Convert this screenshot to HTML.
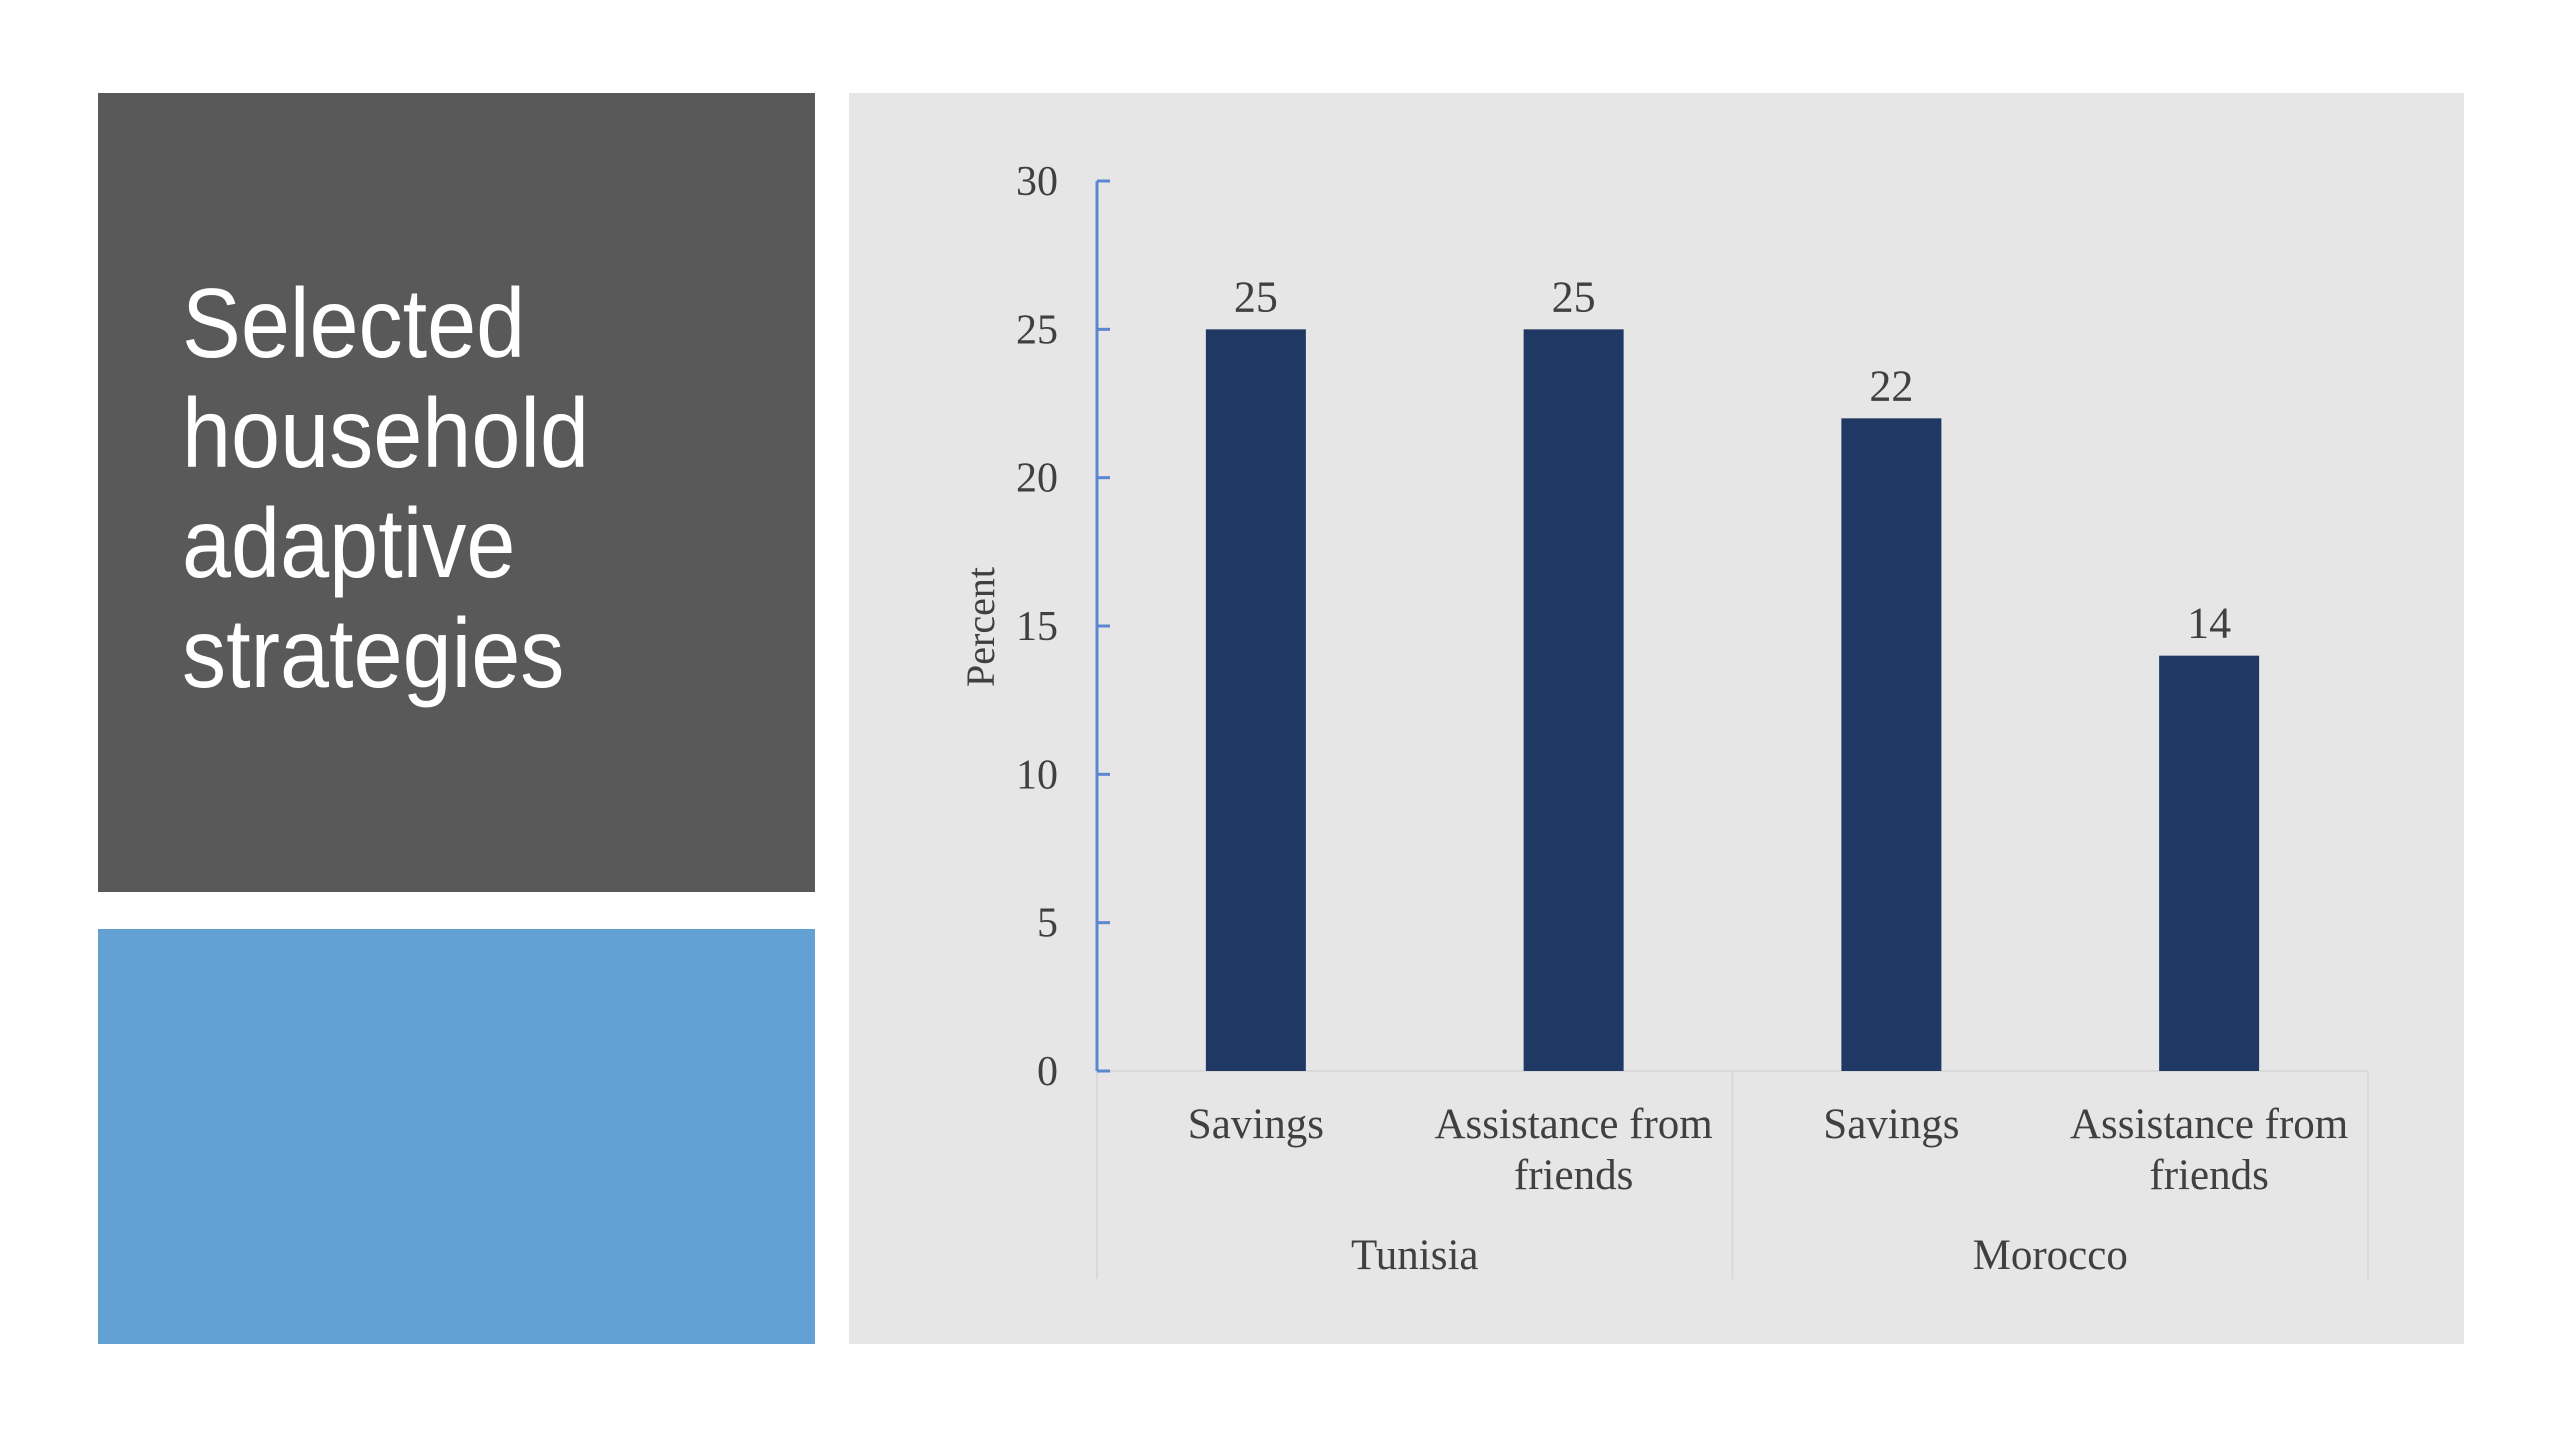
<!DOCTYPE html>
<html><head><meta charset="utf-8"><style>
html,body{margin:0;padding:0;background:#fff;width:2560px;height:1440px;overflow:hidden}
.p{position:absolute}
#title{left:182px;top:268px;color:#fff;font-family:"Liberation Sans",sans-serif;font-size:98px;line-height:110px;transform:scaleX(0.9);transform-origin:left top;white-space:nowrap}
</style></head><body>
<div class="p" style="left:98px;top:93px;width:717px;height:799px;background:#595959"></div>
<div class="p" id="title">Selected<br>household<br>adaptive<br>strategies</div>
<div class="p" style="left:98px;top:929px;width:717px;height:415px;background:#63a0d4"></div>
<div class="p" style="left:849px;top:93px;width:1615px;height:1251px;background:#e6e6e6"></div>
<svg class="p" style="left:0;top:0" width="2560" height="1440" font-family="Liberation Serif, serif" fill="#404040">
<g id="g"></g>
</svg>
<script>
const categories=["Savings","Assistance from|friends","Savings","Assistance from|friends"];
const groups=["Tunisia","Morocco"];
const values=[25,25,22,14];
const ticks=[0,5,10,15,20,25,30];
const X0=1097,X1=2368,Y0=1071,Y30=181;
const y=v=>Y0-(v/30)*(Y0-Y30);
const slot=(X1-X0)/categories.length;
const xc=i=>X0+slot*(i+0.5);
const NS="http://www.w3.org/2000/svg";
const g=document.getElementById('g');
function mk(t,a,txt){const e=document.createElementNS(NS,t);for(const k in a)e.setAttribute(k,a[k]);if(txt!=null)e.textContent=txt;g.appendChild(e);return e;}
let e;
e=mk('line',{x1:X0,x2:X1,y1:Y0,y2:Y0,stroke:'#d9d9d9','stroke-width':2});


const nG=groups.length;
for(let k=0;k<=nG;k++){const sx=X0+(X1-X0)*k/nG;
e=mk('line',{x1:sx,x2:sx,y1:Y0,y2:1279,stroke:'#d9d9d9','stroke-width':2});

}
e=mk('line',{x1:X0,x2:X0,y1:Y30,y2:Y0,stroke:'#5b87d0','stroke-width':3});


ticks.forEach(t=>{
e=mk('line',{x1:X0,x2:X0+13,y1:y(t),y2:y(t),stroke:'#5b87d0','stroke-width':3});


e=mk('text',{x:1058,y:y(t)+14,'text-anchor':'end','font-size':42},String(t));


});
e=mk('text',{x:0,y:0,'text-anchor':'middle','font-size':40,transform:'translate(994,627) rotate(-90)'},'Percent');


values.forEach((v,i)=>{
const w=100;
e=mk('rect',{x:xc(i)-w/2,y:y(v),width:w,height:Y0-y(v),fill:'#1f3864'});


e=mk('text',{x:xc(i),y:y(v)-18,'text-anchor':'middle','font-size':44},String(v));


categories[i].split('|').forEach((ln,j)=>{
e=mk('text',{x:xc(i),y:1138+j*51,'text-anchor':'middle','font-size':43},ln);


});
});
groups.forEach((gname,k)=>{
const cx=X0+(X1-X0)*(k+0.5)/nG;
e=mk('text',{x:cx,y:1269,'text-anchor':'middle','font-size':43},gname);


});
</script>
</body></html>
